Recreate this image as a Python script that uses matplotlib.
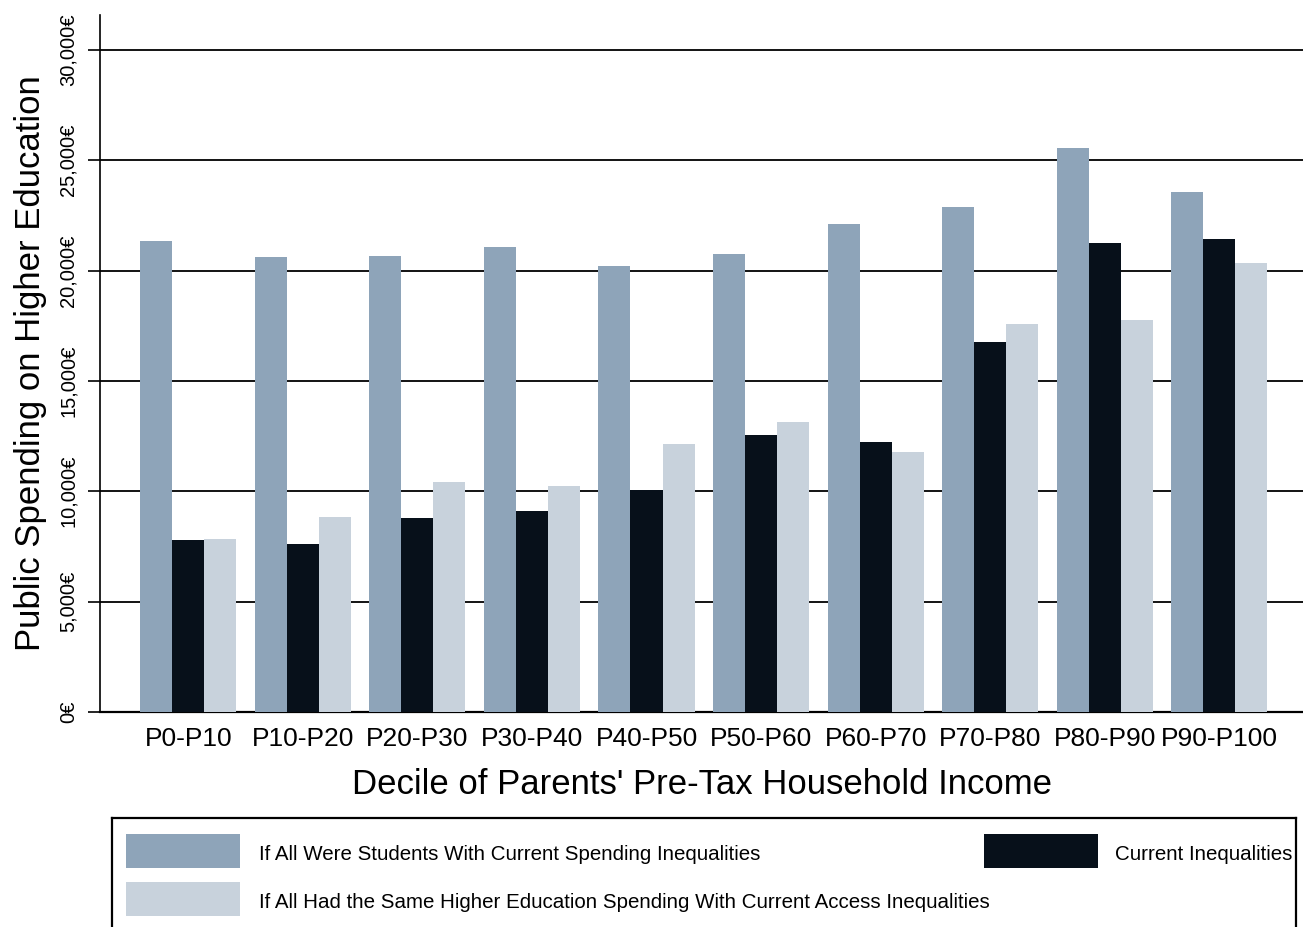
import matplotlib
matplotlib.use("Agg")
import matplotlib.pyplot as plt
import numpy as np
from matplotlib.patches import Rectangle
from matplotlib.ticker import FuncFormatter

plt.rcParams['font.family'] = ['Liberation Sans', 'DejaVu Sans']

categories = ["P0-P10", "P10-P20", "P20-P30", "P30-P40", "P40-P50",
              "P50-P60", "P60-P70", "P70-P80", "P80-P90", "P90-P100"]
all_students = [21350, 20620, 20660, 21070, 20210, 20750, 22110, 22880, 25560, 23560]
current = [7790, 7610, 8800, 9110, 10060, 12550, 12250, 16760, 21250, 21430]
same_spending = [7840, 8840, 10400, 10220, 12140, 13140, 11780, 17580, 17780, 20360]

series_names = ["If All Were Students With Current Spending Inequalities",
                "Current Inequalities",
                "If All Had the Same Higher Education Spending With Current Access Inequalities"]
colors = ["#8EA4B9", "#07101A", "#C8D2DC"]
yticks = [0, 5000, 10000, 15000, 20000, 25000, 30000]

W, H = 1303, 927
fig = plt.figure(figsize=(W / 100, H / 100), dpi=100)
ax_w_px = W - 100
ax = fig.add_axes([100 / W, 1 - 712 / H, ax_w_px / W, (712 - 15) / H])

x = np.arange(len(categories))
bw = 0.28
for i, (vals, col) in enumerate(zip([all_students, current, same_spending], colors)):
    ax.bar(x + (i - 1) * bw, vals, width=bw, color=col, zorder=3, linewidth=0)

ax.set_xlim(-0.77, 9.73)
ax.set_ylim(0, 31580)
ax.set_yticks(yticks)
ax.yaxis.set_major_formatter(FuncFormatter(lambda v, p: f"{int(v):,}€"))
ax.grid(axis='y', color='black', linewidth=1.3, zorder=1)
ax.set_axisbelow(True)
for s in ['top', 'right']:
    ax.spines[s].set_visible(False)
ax.spines['left'].set_linewidth(1.2)
ax.spines['bottom'].set_linewidth(1.6)
ax.tick_params(axis='y', length=9, width=1.2, pad=7, labelsize=14.5, labelrotation=90)
for lab in ax.get_yticklabels():
    lab.set_va('center')
ax.tick_params(axis='x', length=0, pad=11, labelsize=19)
ax.set_xticks(x)
ax.set_xticklabels(categories)
ax.set_ylabel("Public Spending on Higher Education", fontsize=25)
ax.yaxis.set_label_coords((47 - 100) / ax_w_px, 0.5)
ax.set_xlabel("Decile of Parents' Pre-Tax Household Income", fontsize=25, labelpad=12)

# legend box (drawn in pixel coordinates of its own axes)
lx0, lx1, ly0, ly1 = 112, 1296, 818, 945
lax = fig.add_axes([lx0 / W, 1 - ly1 / H, (lx1 - lx0) / W, (ly1 - ly0) / H])
lax.set_xlim(lx0, lx1)
lax.set_ylim(ly1, ly0)
lax.set_xticks([])
lax.set_yticks([])
for s in lax.spines.values():
    s.set_linewidth(1.6)
    s.set_color('black')
entries = [(126, 834, 259, 0), (984, 834, 1115, 1), (126, 882, 259, 2)]
for px, py, tx, idx in entries:
    lax.add_patch(Rectangle((px, py), 114, 34, facecolor=colors[idx], edgecolor='none'))
    lax.text(tx, py + 21, series_names[idx], fontsize=14.8, va='center', ha='left')

fig.savefig("out.png", dpi=100)
